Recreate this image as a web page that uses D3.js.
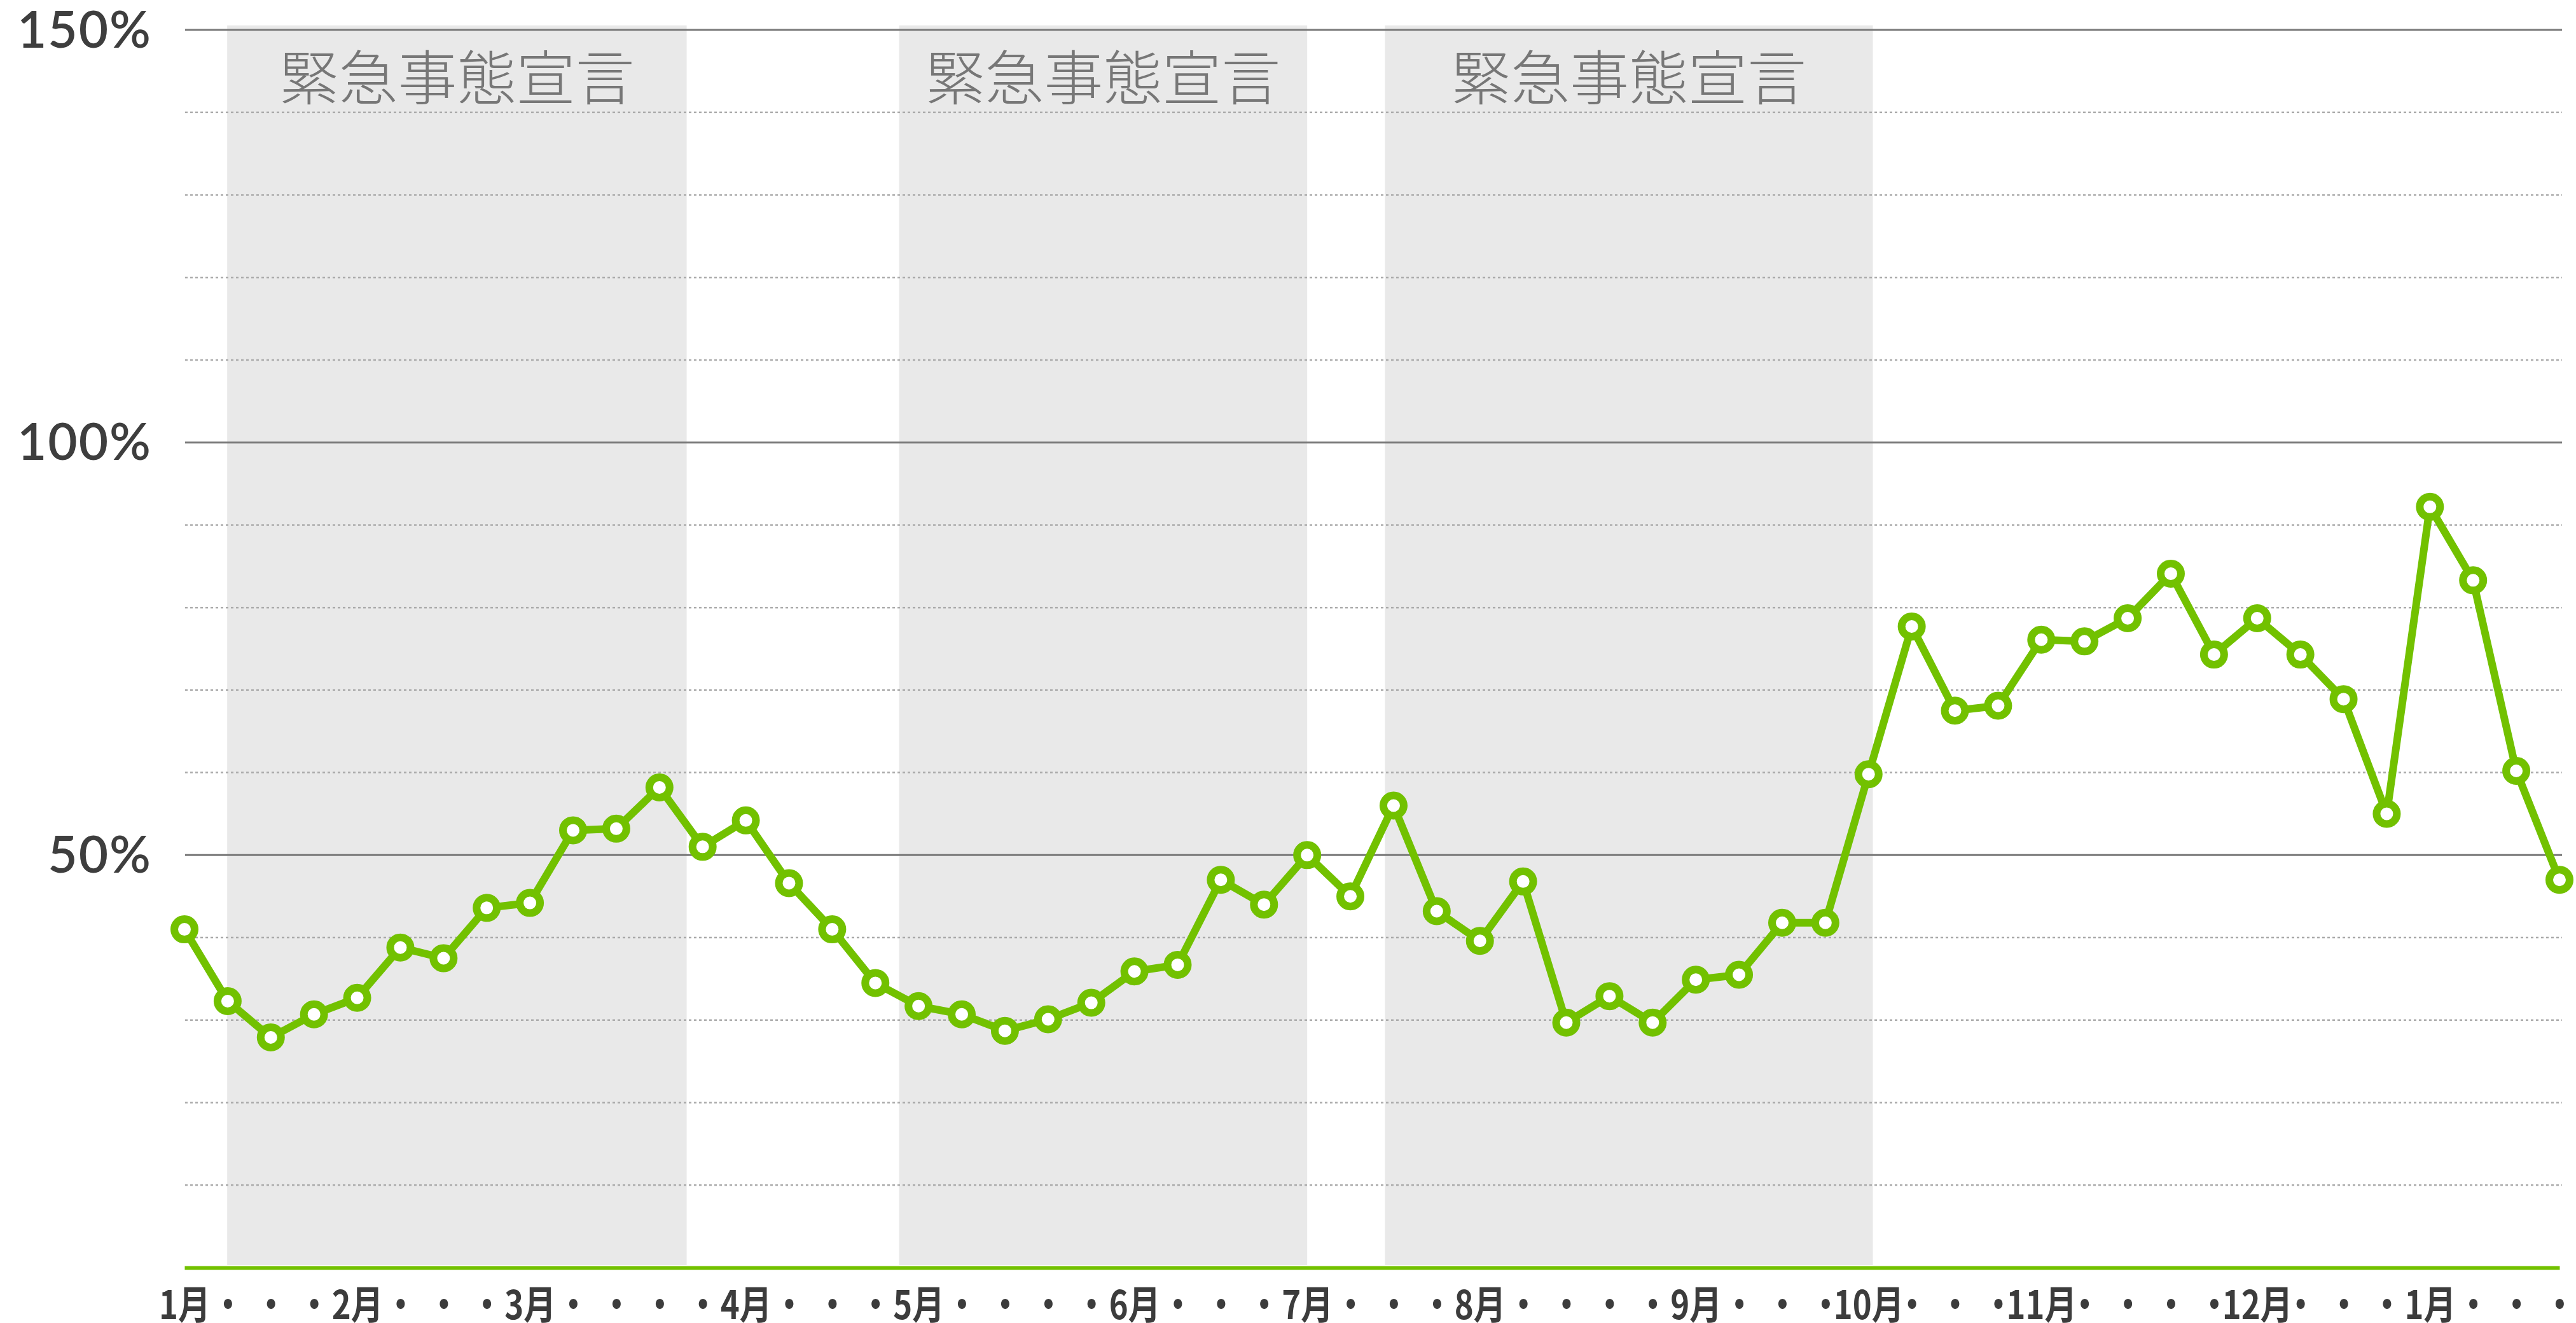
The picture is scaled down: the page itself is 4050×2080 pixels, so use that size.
<!DOCTYPE html>
<html>
<head>
<meta charset="utf-8">
<script src="https://cdn.jsdelivr.net/npm/d3@7"></script>
<style>
  body { margin: 0; background: #fff; }
  svg { display: block; }
</style>
</head>
<body>
<script>
// Weekly rate (%)
var rates = [41.0, 32.3, 27.9, 30.7, 32.7, 38.8, 37.5, 43.6, 44.2, 53.0,
  53.2, 58.2, 51.0, 54.2, 46.6, 41.0, 34.5, 31.7, 30.7, 28.7,
  30.1, 32.1, 35.9, 36.7, 47.0, 44.0, 50.0, 45.0, 56.0, 43.2,
  39.6, 46.8, 29.7, 32.9, 29.7, 34.9, 35.5, 41.8, 41.8, 59.8,
  77.7, 67.5, 68.1, 76.1, 75.9, 78.7, 84.1, 74.3, 78.7, 74.3,
  68.9, 55.0, 92.2, 83.3, 60.2, 47.0];

// x tick labels, one per week
var monthWeeks = [0, 4, 8, 13, 17, 22, 26, 30, 35, 39, 43, 48, 52];
var monthNames = ["1月", "2月", "3月", "4月", "5月", "6月", "7月", "8月", "9月", "10月", "11月", "12月", "1月"];

// emergency declaration periods (in week index units)
var bandStart = [0.99, 16.55, 27.8];
var bandEnd = [11.63, 26.0, 39.1];
var bandLabel = "緊急事態宣言";

var yTicks = [50, 100, 150];
var gridValues = d3.range(10, 151, 10);

var svgWidth = 4050;
var svgHeight = 2080;
var green = "#72c100";

var svg = d3.select("body")
  .append("svg")
  .attr("width", svgWidth)
  .attr("height", svgHeight);

var x = d3.scaleLinear()
  .domain([0, rates.length - 1])
  .range([290, 4024]);

var y = d3.scaleLinear()
  .domain([0, 150])
  .range([1993, 47]);

// shaded bands
var bands = svg.append("g");
bands.selectAll("rect")
  .data(bandStart)
  .enter().append("rect")
    .attr("x", d => x(d))
    .attr("width", (d, i) => x(bandEnd[i]) - x(d))
    .attr("y", 40)
    .attr("height", y(0) - 4 - 40)
    .attr("fill", "#e9e9e9");

bands.selectAll("text")
  .data(bandStart)
  .enter().append("text")
    .attr("x", (d, i) => (x(d) + x(bandEnd[i])) / 2)
    .attr("y", 116)
    .attr("text-anchor", "middle")
    .attr("dominant-baseline", "central")
    .attr("font-family", "'Noto Sans CJK JP'")
    .attr("font-weight", 300)
    .attr("font-size", 93)
    .attr("fill", "#777777")
    .text(bandLabel);

// gridlines
svg.append("g")
  .selectAll("line")
  .data(gridValues)
  .enter().append("line")
    .attr("x1", 291)
    .attr("x2", 4028)
    .attr("y1", d => y(d))
    .attr("y2", d => y(d))
    .attr("stroke", d => d % 50 == 0 ? "#7a7a7a" : "#aaaaaa")
    .attr("stroke-width", d => d % 50 == 0 ? 3 : 2.5)
    .attr("stroke-dasharray", d => d % 50 == 0 ? null : "4,4");

// y axis labels
var yAxis = svg.append("g")
  .attr("transform", "translate(291,0)")
  .call(d3.axisLeft(y).tickValues(yTicks).tickSize(0).tickPadding(52).tickFormat(d => d + "%"));
yAxis.select(".domain").remove();
yAxis.selectAll("text")
  .attr("dy", "0.34em")
  .attr("font-family", "Lato")
  .attr("font-weight", 600)
  .attr("font-size", 80)
  .attr("letter-spacing", 2)
  .attr("fill", "#3e3e3e");

// x axis: green baseline + week labels
var xAxis = svg.append("g")
  .attr("transform", `translate(0, ${y(0)})`)
  .call(d3.axisBottom(x)
    .tickValues(d3.range(rates.length))
    .tickSize(0)
    .tickSizeOuter(0)
    .tickFormat(function (d) {
      var k = monthWeeks.indexOf(d);
      return k >= 0 ? monthNames[k] : "・";
    }));
xAxis.select(".domain")
  .attr("stroke", green)
  .attr("stroke-width", 6);
xAxis.selectAll("text")
  .attr("y", 54)
  .attr("dy", null)
  .attr("dominant-baseline", "central")
  .attr("transform", "scale(0.82,1)")
  .attr("font-family", "'Noto Sans CJK JP'")
  .attr("font-weight", 700)
  .attr("font-size", 62)
  .attr("fill", "#3c3c3c");

// data line
var line = d3.line()
  .x((d, i) => x(i))
  .y(d => y(d));

svg.append("path")
  .datum(rates)
  .attr("d", line)
  .attr("fill", "none")
  .attr("stroke", green)
  .attr("stroke-width", 12)
  .attr("stroke-linejoin", "round");

svg.append("g")
  .selectAll("circle")
  .data(rates)
  .enter().append("circle")
    .attr("cx", (d, i) => x(i))
    .attr("cy", d => y(d))
    .attr("r", 16)
    .attr("fill", "#fff")
    .attr("stroke", green)
    .attr("stroke-width", 12);
</script>
</body>
</html>
